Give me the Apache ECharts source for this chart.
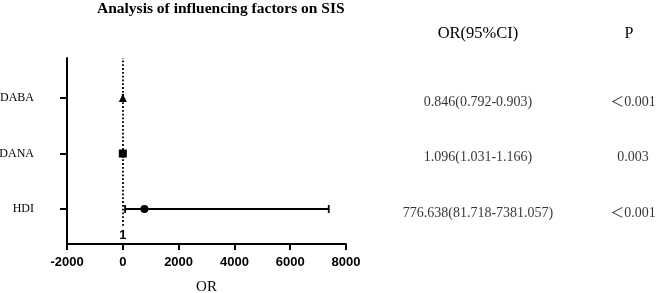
<!DOCTYPE html>
<html>
<head>
<meta charset="utf-8">
<script src="https://cdn.jsdelivr.net/npm/echarts@6/dist/echarts.min.js"></script>
<style>
  html, body { margin: 0; padding: 0; background: #fff; }
  #main { width: 658px; height: 293px; }
</style>
</head>
<body>
<div id="main"></div>
<script>
// forest plot: OR with 95% CI
const categories = ['DABA', 'DANA', 'HDI'];
const orValues = [0.846, 1.096, 776.638];
const ciLow = [0.792, 1.031, 81.718];
const ciHigh = [0.903, 1.166, 7381.057];
const orText = ['0.846(0.792-0.903)', '1.096(1.031-1.166)', '776.638(81.718-7381.057)'];
const pText = ['＜0.001', '0.003', '＜0.001'];
const xMin = -2000, xMax = 8000, xStep = 2000;
const refValue = 1;

const serif = "'Liberation Serif', 'Noto Sans CJK SC', serif";
const sans = "'Liberation Sans', Arial, sans-serif";

// rows from top to bottom -> 3, 2, 1
const rowY = categories.map((c, i) => categories.length - i);
const symbols = ['triangle', 'rect', 'circle'];

let chart = echarts.init(document.getElementById('main'), null, { renderer: 'canvas' });

let option = {
  animation: false,
  backgroundColor: '#fff',
  title: {
    text: 'Analysis of influencing factors on SIS',
    left: 97,
    top: 1,
    padding: 0,
    textStyle: { fontFamily: serif, fontSize: 15.5, fontWeight: 'bold', color: '#000' }
  },
  graphic: [
    { type: 'text', x: 478, y: 34, style: { text: 'OR(95%CI)', font: '16.5px ' + serif, fill: '#000', align: 'center', verticalAlign: 'middle' } },
    { type: 'text', x: 629, y: 34, style: { text: 'P', font: '16px ' + serif, fill: '#000', align: 'center', verticalAlign: 'middle' } }
  ],
  grid: [
    { left: 67, right: 312, top: 58, bottom: 49, outerBoundsMode: 'none' },
    { left: 360, right: 0, top: 58, bottom: 49, outerBoundsMode: 'none' }
  ],
  xAxis: [
    {
      gridIndex: 0,
      type: 'value',
      min: xMin,
      max: xMax,
      interval: xStep,
      name: 'OR',
      nameLocation: 'middle',
      nameGap: 36,
      nameTextStyle: { fontFamily: serif, fontSize: 15, color: '#000' },
      axisLine: { show: true, onZero: false, lineStyle: { color: '#000', width: 2 } },
      axisTick: { show: true, length: 6, lineStyle: { color: '#000', width: 2 } },
      axisLabel: { fontFamily: sans, fontSize: 13, fontWeight: 'bold', color: '#000', margin: 12, formatter: v => String(v) },
      splitLine: { show: false }
    },
    { gridIndex: 1, type: 'value', min: 0, max: 1, show: false }
  ],
  yAxis: [
    {
      gridIndex: 0,
      type: 'value',
      min: 0.37,
      max: 3.72,
      axisLine: { show: true, onZero: false, lineStyle: { color: '#000', width: 2 } },
      axisTick: { show: true, length: 7, customValues: rowY, lineStyle: { color: '#000', width: 2 } },
      axisLabel: {
        customValues: rowY,
        margin: 33,
        fontFamily: serif,
        fontSize: 12,
        color: '#000',
        formatter: v => categories[categories.length - Math.round(v)]
      },
      splitLine: { show: false }
    },
    { gridIndex: 1, type: 'value', min: 0.37, max: 3.72, show: false }
  ],
  series: [
    {
      type: 'custom',
      xAxisIndex: 0,
      yAxisIndex: 0,
      encode: { x: [0, 1], y: 2 },
      data: categories.map((c, i) => [ciLow[i], ciHigh[i], rowY[i]]),
      renderItem: function (params, api) {
        const y = api.value(2);
        const p1 = api.coord([api.value(0), y]);
        const p2 = api.coord([api.value(1), y]);
        const h = 4;
        const st = { stroke: '#000', lineWidth: 1.8 };
        return {
          type: 'group',
          children: [
            { type: 'line', shape: { x1: p1[0], y1: p1[1], x2: p2[0], y2: p2[1] }, style: st },
            { type: 'line', shape: { x1: p1[0], y1: p1[1] - h, x2: p1[0], y2: p1[1] + h }, style: st },
            { type: 'line', shape: { x1: p2[0], y1: p2[1] - h, x2: p2[0], y2: p2[1] + h }, style: st }
          ]
        };
      },
      z: 2
    },
    {
      type: 'scatter',
      xAxisIndex: 0,
      yAxisIndex: 0,
      data: categories.map((c, i) => ({ value: [orValues[i], rowY[i]], symbol: symbols[i] })),
      symbolSize: 8,
      itemStyle: { color: '#000', opacity: 1 },
      z: 4,
      markLine: {
        silent: true,
        symbol: 'none',
        lineStyle: { color: '#000', width: 1.8, type: [1.8, 2] },
        label: {
          show: true,
          position: 'start',
          distance: 3,
          formatter: String(refValue),
          fontFamily: sans,
          fontSize: 13,
          fontWeight: 'bold',
          color: '#000'
        },
        data: [[{ coord: [refValue, 0.7] }, { coord: [refValue, 3.72] }]]
      }
    },
    {
      type: 'scatter',
      xAxisIndex: 1,
      yAxisIndex: 1,
      symbolSize: 1,
      itemStyle: { color: 'rgba(0,0,0,0)' },
      label: {
        show: true,
        position: 'inside',
        offset: [0, 4],
        fontFamily: serif,
        fontSize: 14,
        color: '#000',
        formatter: p => p.data[2]
      },
      data: categories.map((c, i) => [0.396, rowY[i], orText[i]])
    },
    {
      type: 'scatter',
      xAxisIndex: 1,
      yAxisIndex: 1,
      symbolSize: 1,
      itemStyle: { color: 'rgba(0,0,0,0)' },
      label: {
        show: true,
        position: 'inside',
        offset: [0, 4],
        fontFamily: serif,
        fontSize: 14,
        color: '#000',
        formatter: p => p.data[2]
      },
      data: categories.map((c, i) => [0.916, rowY[i], pText[i]])
    }
  ]
};

chart.setOption(option);
</script>
</body>
</html>
